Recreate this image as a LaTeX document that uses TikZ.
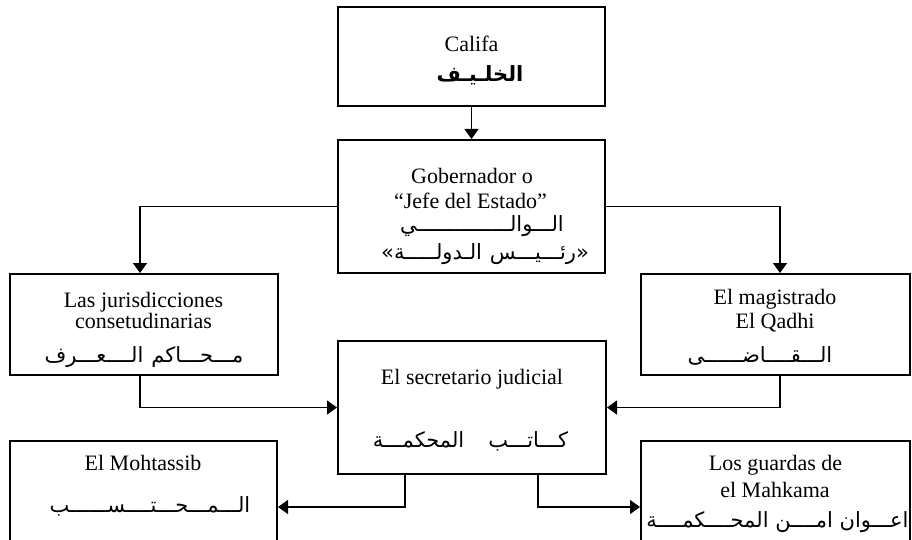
\documentclass[tikz,border=0pt]{standalone}
\usepackage{fontspec}
\usetikzlibrary{arrows.meta}
\setmainfont{Liberation Serif}
\newfontfamily\arabicfont[Script=Arabic]{DejaVu Sans}
\TeXXeTstate=1

\tikzset{
  box/.style = {draw, line width = 2pt, inner sep = 0pt},
  es/.style = {anchor = base, inner sep = 0pt, font = \fontsize{22}{26}\selectfont},
  ar/.style = {anchor = base, inner sep = 0pt, font = {\arabicfont\fontsize{21}{24}\selectfont}},
  conn/.style = {line width = 1.5pt, -{Triangle[length = 10pt, width = 14pt]}}
}

\begin{document}
\begin{tikzpicture}[x = 1pt, y = -1pt]
        \useasboundingbox (0,0) rectangle (912,540);
        \clip (0,0) rectangle (912,540);

        % boxes
        \node [box, minimum width = 267pt, minimum height = 99pt] (califa) at (471.5,56.5) {};
        \node [box, minimum width = 267pt, minimum height = 133pt] (gob) at (471.5,206.5) {};
        \node [box, minimum width = 268pt, minimum height = 101pt] (juris) at (144,324.5) {};
        \node [box, minimum width = 269pt, minimum height = 101pt] (qadhi) at (775.5,324.5) {};
        \node [box, minimum width = 268pt, minimum height = 133pt] (secr) at (472,407.5) {};
        \node [box, minimum width = 267pt, minimum height = 132pt] (moht) at (143.5,507) {};
        \node [box, minimum width = 269pt, minimum height = 132pt] (guard) at (775.5,507) {};

        % texts
        \node [es] (califa-es) at (471.5,52) {Califa};
        \node [ar] (califa-ar) at (480,82) {\bfseries\beginR الخلـيـف\endR};

        \node [es] (gob-es1) at (472,183) {Gobernador o};
        \node [es] (gob-es2) at (470.5,208) {``Jefe del Estado''};
        \node [ar] (gob-ar1) at (482,231) {\beginR الـــوالـــــــــــــــي\endR};
        \node [ar] (gob-ar2) at (485,259) {\beginR «رئـــيـــس\hspace{8pt}الـدولـــــة»\endR};

        \node [es] (juris-es1) at (143.5,307) {Las jurisdicciones};
        \node [es] (juris-es2) at (143.5,328) {consetudinarias};
        \node [ar] (juris-ar) at (144,362) {\beginR مـــحـــاكم\hspace{8pt}الــــعـــرف\endR};

        \node [es] (qadhi-es1) at (775,304) {El magistrado};
        \node [es] (qadhi-es2) at (775,328) {El Qadhi};
        \node [ar] (qadhi-ar) at (760,362) {\beginR الـــقــــاضــــــى\endR};

        \node [es] (secr-es) at (472,384) {El secretario judicial};
        \node [ar] (secr-ar) at (470.5,447) {\beginR كـــاتـــب\hspace{24pt}المحكمـــة\endR};

        \node [es] (moht-es) at (143,470) {El Mohtassib};
        \node [ar] (moht-ar) at (150,512) {\beginR الـــمـــحـــتــــســــــب\endR};

        \node [es] (guard-es1) at (775.5,470) {Los guardas de};
        \node [es] (guard-es2) at (775,497) {el Mahkama};
        \node [ar] (guard-ar) at (777.5,527) {\beginR اعـــوان امــــن المحــــكمــــة\endR};

        % connectors
        \draw [conn] (califa.south) -- (gob.north);
        \draw [conn] (gob.west) -| ([xshift = -4pt]juris.north);
        \draw [conn] (gob.east) -| ([xshift = 4.5pt]qadhi.north);
        \draw [conn] ([xshift = -4pt]juris.south) |- (secr.west);
        \draw [conn] ([xshift = 4.5pt]qadhi.south) |- (secr.east);
        \draw [conn] ([xshift = -67pt]secr.south) |- (moht.east);
        \draw [conn] ([xshift = 66pt]secr.south) |- (guard.west);
    \end{tikzpicture}
\end{document}
